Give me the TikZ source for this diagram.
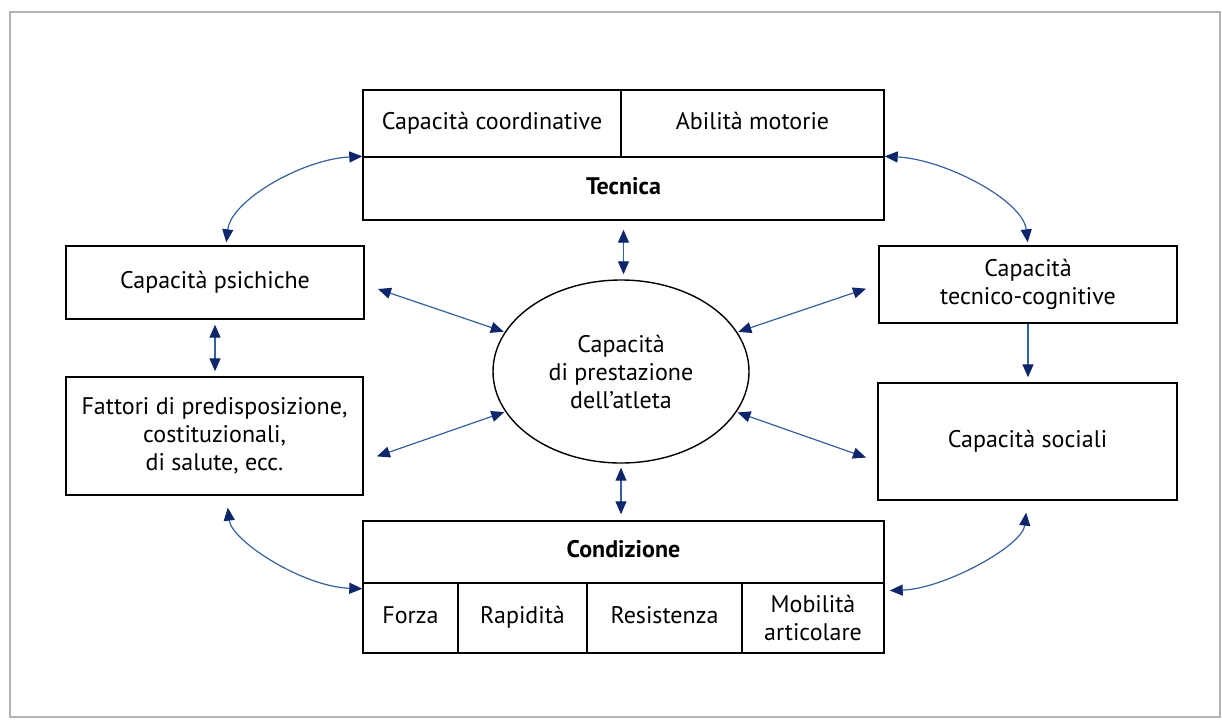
\documentclass[tikz,border=0pt]{standalone}
\usepackage{fontspec}
\setmainfont{PT Sans}
\usetikzlibrary{arrows.meta,shapes.geometric}
\definecolor{linkblue}{RGB}{52,96,160}
\definecolor{tipnavy}{RGB}{14,38,108}
\definecolor{framegray}{RGB}{178,178,178}
\tikzset{
  navytip/.tip={Triangle[length=13pt,width=11pt,color=tipnavy]},
  box/.style={draw=black, line width=1.4pt, rectangle, inner sep=0pt, align=center,
    font=\fontsize{24}{28}\selectfont},
  oneline/.style={text height=17pt, text depth=6pt},
  oval/.style={draw=black, line width=1.4pt, ellipse, inner sep=0pt, align=center,
    font=\fontsize{24}{28}\selectfont},
  dbl/.style={draw=linkblue, line width=1.2pt, arrows={navytip-navytip}},
  sgl/.style={draw=linkblue, line width=1.2pt, arrows={-navytip}}
}
\begin{document}
\begin{tikzpicture}[x=1pt,y=-1pt]
\useasboundingbox (0,0) rectangle (1222,726);
% outer frame
\draw[framegray, line width=1.3pt] (10,12) rectangle (1220,717);

% Tecnica block
\node[box, oneline, minimum width=258, minimum height=67] (cc) at (492,123.5) {Capacità coordinative};
\node[box, oneline, minimum width=263, minimum height=67] (am) at (752.5,123.5) {Abilità motorie};
\node[box, oneline, minimum width=521, minimum height=63] (tec) at (623.5,188.5) {\bfseries Tecnica};

% left column
\node[box, minimum width=298, minimum height=73] (psi) at (215,282.5) {Capacità psichiche};
\node[box, minimum width=297, minimum height=118] (fat) at (214.5,436)
  {Fattori di predisposizione,\\costituzionali,\\di salute, ecc.};

% right column
\node[box, minimum width=298, minimum height=77] (tc) at (1028,284.5) {Capacità\\tecnico-cognitive};
\node[box, minimum width=299, minimum height=117] (soc) at (1027.5,441.5) {Capacità sociali};

% centre
\node[oval, minimum width=256, minimum height=183] (ell) at (621,371.5)
  {Capacità\\di prestazione\\dell’atleta};

% Condizione block
\node[box, oneline, minimum width=521, minimum height=62] (con) at (623.5,552) {\bfseries Condizione};
\node[box, oneline, minimum width=95, minimum height=70] (fo) at (410.5,618) {Forza};
\node[box, oneline, minimum width=129, minimum height=70] (ra) at (522.5,618) {Rapidità};
\node[box, oneline, minimum width=155, minimum height=70] (re) at (664.5,618) {Resistenza};
\node[box, minimum width=142, minimum height=70] (mo) at (813,618) {Mobilità\\articolare};

% vertical links
\draw[dbl, shorten <=9pt, shorten >=5pt] (tec.south) -- (tec.south |- ell.north);
\draw[dbl, shorten <=4pt, shorten >=6pt] (ell.south) -- (ell.south |- con.north);
\draw[dbl, shorten <=5pt, shorten >=5pt] (psi.south) -- (psi.south |- fat.north);
\draw[sgl, shorten >=5pt] (tc.south) -- (tc.south |- soc.north);

% diagonal links to the centre
\draw[dbl, shorten <=14pt, shorten >=1pt] ([yshift=-2pt]psi.east) -- (ell);
\draw[dbl, shorten <=14pt, shorten >=1pt] ([yshift=-25pt]fat.east) -- (ell);
\draw[dbl, shorten <=13pt, shorten >=1pt] (tc.west) -- (ell);
\draw[dbl, shorten <=12pt, shorten >=1pt] ([yshift=-20pt]soc.west) -- (ell);

% curved links around the outside
\draw[dbl, shorten >=3pt] (tec.north west) .. controls +(-60,3) and +(5,-45) .. ([xshift=11pt]psi.north);
\draw[dbl, shorten >=3pt] (tec.north east) .. controls +(60,3) and +(-5,-45) .. (tc.north);
\draw[dbl, shorten <=12pt] ([xshift=12pt]fat.south) .. controls +(5,45) and +(-60,-2) .. ([yshift=-5pt]con.south west);
\draw[dbl, shorten <=12pt, shorten >=5pt] (soc.south) .. controls +(-5,45) and +(60,-2) .. ([yshift=-7pt]con.south east);
\end{tikzpicture}
\end{document}
